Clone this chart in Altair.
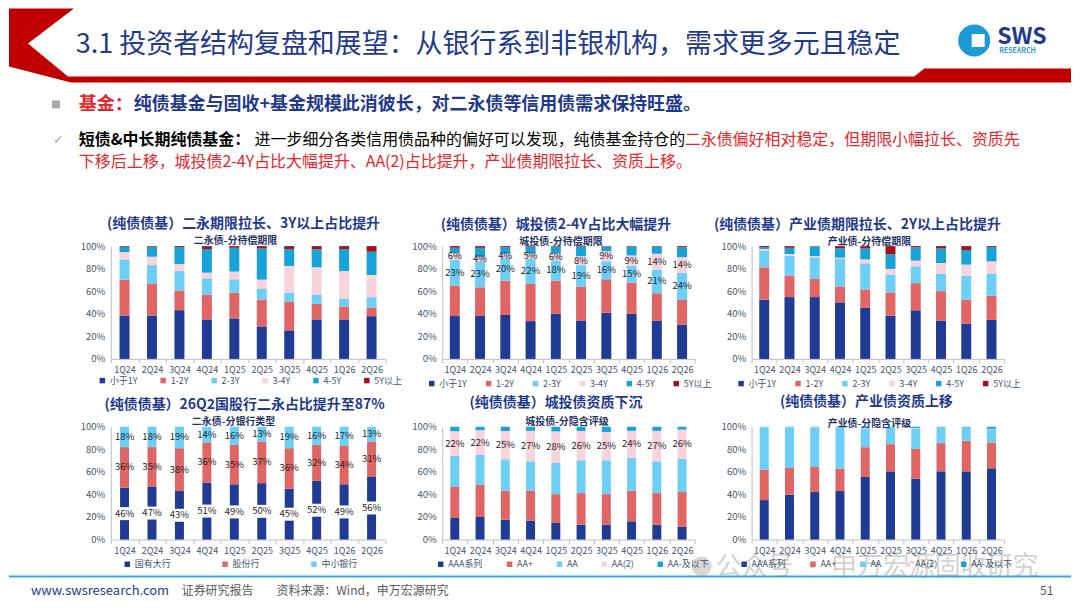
import altair as alt
import pandas as pd

quarters = ["1Q24", "2Q24", "3Q24", "4Q24", "1Q25", "2Q25", "3Q25", "4Q25", "1Q26", "2Q26"]
term_series = ["小于1Y", "1-2Y", "2-3Y", "3-4Y", "4-5Y", "5Y以上"]
bank_series = ["国有大行", "股份行", "中小银行"]
rating_series = ["AAA系列", "AA+", "AA", "AA(2)", "AA-及以下"]

# 二永债-分待偿期限 (%)
ey_lt1 = [38.5, 38.5, 43.2, 35.0, 35.9, 28.8, 25.3, 35.0, 35.0, 37.9]
ey_12 = [31.8, 28.3, 17.4, 22.1, 22.9, 23.8, 25.3, 13.8, 11.5, 7.7]
ey_23 = [17.9, 16.4, 17.3, 14.4, 11.8, 9.8, 8.2, 8.0, 6.7, 9.1]
ey_34 = [6.5, 7.4, 6.2, 5.0, 6.8, 7.9, 23.6, 24.4, 24.7, 19.7]
ey_45 = [4.7, 8.8, 15.0, 20.9, 21.1, 27.6, 15.0, 15.9, 19.5, 20.6]
ey_gt5 = [0.6, 0.6, 0.9, 2.6, 1.5, 2.1, 2.6, 2.9, 2.6, 5.0]

# 城投债-分待偿期限 (%)
ct_lt1 = [38.0, 38.0, 38.9, 33.5, 40.0, 34.1, 41.0, 40.0, 34.1, 30.3]
ct_12 = [27.0, 25.5, 30.5, 33.0, 29.4, 30.0, 29.6, 27.7, 24.1, 21.9]
ct_23 = [23, 23, 20, 22, 18, 19, 16, 15, 21, 24]
ct_34 = [6, 4, 4, 5, 6, 8, 9, 9, 14, 14]
ct_45 = [4.5, 8.0, 5.6, 6.0, 6.1, 8.4, 4.0, 7.8, 6.3, 8.8]
ct_gt5 = [1.5, 1.5, 1.0, 0.5, 0.5, 0.5, 0.4, 0.5, 0.5, 1.0]

# 产业债-分待偿期限 (%)
cy_lt1 = [52.5, 54.8, 54.8, 50.1, 45.2, 38.4, 43.1, 34.0, 31.1, 34.6]
cy_12 = [28.7, 19.1, 16.2, 14.1, 16.4, 20.5, 24.1, 26.1, 21.4, 21.4]
cy_23 = [15.0, 17.6, 19.0, 24.4, 23.2, 15.9, 14.9, 15.3, 21.1, 19.7]
cy_34 = [1.2, 1.5, 1.2, 1.1, 3.5, 5.0, 5.0, 9.6, 10.0, 10.8]
cy_45 = [1.8, 5.5, 8.5, 8.5, 9.6, 12.9, 11.7, 12.9, 12.9, 12.6]
cy_gt5 = [0.8, 1.5, 0.3, 1.8, 2.1, 7.3, 1.2, 2.1, 3.5, 0.9]

# 二永债-分银行类型 (%)
bk_big = [46, 47, 43, 51, 49, 50, 45, 52, 49, 56]
bk_joint = [36, 35, 38, 36, 35, 37, 36, 32, 34, 31]
bk_small = [18, 18, 19, 14, 16, 13, 19, 16, 17, 13]

# 城投债-分隐含评级 (%)
cr_aaa = [19.1, 20.0, 17.6, 16.8, 14.7, 13.2, 13.2, 16.2, 13.2, 11.5]
cr_aap = [28.0, 28.5, 25.6, 26.4, 25.6, 28.0, 27.1, 27.0, 28.0, 30.6]
cr_aa = [27.0, 26.5, 28.0, 26.2, 27.6, 29.1, 30.0, 29.2, 28.2, 29.4]
cr_aa2 = [22, 22, 25, 27, 28, 26, 25, 24, 27, 26]
cr_aam = [3.9, 3.0, 3.8, 3.6, 4.1, 3.7, 4.7, 3.6, 3.6, 2.5]

# 产业债-分隐含评级 (%)
ir_aaa = [35.0, 39.8, 42.1, 43.0, 55.5, 60.5, 54.0, 60.5, 60.5, 63.2]
ir_aap = [27.0, 23.7, 22.3, 19.9, 26.4, 24.1, 26.7, 25.0, 27.0, 22.9]
ir_aa = [37.2, 35.9, 35.0, 36.5, 16.6, 14.8, 17.8, 13.6, 11.6, 11.8]
ir_aa2 = [0.3, 0.2, 0.2, 0.2, 0.5, 0.2, 0.5, 0.3, 0.2, 0.3]
ir_aam = [0.5, 0.4, 0.4, 0.4, 1.0, 0.4, 1.0, 0.6, 0.7, 1.8]

NAVY, RED, SKY, PINK, BLUE, DRED = "#1F3B93", "#E06565", "#6DCFF6", "#F8D3DB", "#17A2D8", "#A0141E"
term_colors = [NAVY, RED, SKY, PINK, BLUE, DRED]
bank_colors = [NAVY, RED, SKY]
rating_colors = [NAVY, RED, SKY, PINK, BLUE]

AX = "#44546A"
DOM = "#BFBFBF"
TITLE_C = "#1F3A8C"
SUB_C = "#1F3366"
ONE = alt.Data(values=[{"k": 0}])


def long_df(series, cols):
    rows = []
    for qi, q in enumerate(quarters):
        total = sum(c[qi] for c in cols)
        cum = 0.0
        for si, (s, c) in enumerate(zip(series, cols)):
            v = c[qi]
            cum += v
            rows.append(dict(quarter=q, series=s, idx=si, value=v,
                             mid=(cum - v / 2) / total, lab=f"{round(v)}%"))
    return pd.DataFrame(rows)


def txt(text, x, y, size, color, weight="normal", align="left", font=None, opacity=1.0):
    kw = dict(text=text, fontSize=size, color=color, fontWeight=weight,
              align=align, baseline="middle")
    if font:
        kw["font"] = font
    if opacity != 1.0:
        kw["opacity"] = opacity
    return alt.Chart(ONE).mark_text(**kw).encode(x=alt.value(x), y=alt.value(y))


def panel(df, series, colors, width, bar_size, title, tpos, sub, spos,
          lx, ly, lpad, label_series=(), box_series=(), pre=(), post=()):
    xaxis = alt.Axis(title=None, labelAngle=0, labelFontSize=9, labelColor=AX,
                     tickBand="extent", tickSize=4, tickColor=DOM, domainColor=DOM,
                     labelPadding=3, grid=False)
    yaxis = alt.Axis(title=None, values=[0, 0.2, 0.4, 0.6, 0.8, 1.0], format=".0%",
                     labelFontSize=9.5, labelColor=AX, ticks=False, tickSize=0,
                     domainColor=DOM, labelPadding=6, grid=False)
    xenc = alt.X("quarter:N", sort=quarters,
                 scale=alt.Scale(paddingInner=0, paddingOuter=0), axis=xaxis)
    yscale = alt.Scale(domain=[0, 1], nice=False)
    bars = alt.Chart(df).mark_bar(size=bar_size).encode(
        x=xenc,
        y=alt.Y("value:Q", stack="normalize", scale=yscale, axis=yaxis),
        color=alt.Color("series:N", sort=series,
                        scale=alt.Scale(domain=series, range=colors),
                        legend=alt.Legend(orient="none", legendX=lx, legendY=ly,
                                          direction="horizontal", columns=len(series),
                                          title=None, symbolType="square", symbolSize=30,
                                          symbolStrokeWidth=0, labelFontSize=9,
                                          labelColor=AX, labelOffset=3,
                                          columnPadding=lpad, padding=0)),
        order=alt.Order("idx:Q", sort="ascending"),
    )
    layers = list(pre) + [bars]
    if box_series:
        bdf = df[df["series"].isin(box_series)]
        layers.append(alt.Chart(bdf).mark_tick(color="white", size=24, thickness=13,
                                               opacity=1).encode(
            x=xenc, y=alt.Y("mid:Q", scale=yscale, axis=yaxis)))
    if label_series:
        ldf = df[df["series"].isin(label_series)]
        layers.append(alt.Chart(ldf).mark_text(fontSize=9.5, color="#262626",
                                               baseline="middle").encode(
            x=xenc, y=alt.Y("mid:Q", scale=yscale, axis=yaxis), text="lab:N"))
    layers.append(txt(title, tpos[0], tpos[1], 14, TITLE_C, "bold", "center"))
    layers.append(txt(sub, spos[0], spos[1], 10, SUB_C, "bold", "center"))
    layers += list(post)
    return alt.layer(*layers).properties(width=width, height=113)


# panel-1 origin on the slide is (110, 246): decorations use slide coords minus that
OX, OY = 110, 246


def P(x, y):
    return x - OX, y - OY


RED_TXT = "#E8262A"
chevron = "M0,0 L65,0 L19,35 L59,68 L907,68 L917,60 L1064,60 L1064,74 L62,74 L0,58 Z"

fx0, fy0 = P(8, 8)
fx1, fy1 = P(1072, 600)
frame = alt.Chart(ONE).mark_rect(color="white", opacity=0).encode(
    x=alt.value(fx0), x2=alt.value(fx1), y=alt.value(fy0), y2=alt.value(fy1))

deco = []
cx, cy = P(8, 8)
deco.append(alt.Chart(ONE).mark_point(shape=chevron, size=4, filled=True, color="#C00000",
                                       opacity=1, strokeWidth=0).encode(
    x=alt.value(cx), y=alt.value(cy)))
lx_, ly_ = P(975, 40)
deco.append(alt.Chart(ONE).mark_point(shape="circle", size=1024, filled=True, color="#1C9AD6",
                                       opacity=1, strokeWidth=0).encode(
    x=alt.value(lx_), y=alt.value(ly_)))
sx_, sy_ = P(979, 40)
deco.append(alt.Chart(ONE).mark_point(shape="square", size=169, filled=True, color="white",
                                       opacity=1, strokeWidth=0).encode(
    x=alt.value(sx_), y=alt.value(sy_)))
deco.append(txt("SWS", *P(998, 37), 23, TITLE_C, "bold"))
deco.append(txt("RESEARCH", *P(1000, 51), 7, "#2A9AD6", "bold"))
deco.append(txt("3.1 投资者结构复盘和展望：从银行系到非银机构，需求更多元且稳定", *P(75, 45), 27, TITLE_C))

bx, by = P(55, 104)
deco.append(alt.Chart(ONE).mark_point(shape="square", size=64, filled=True, color="#A6A6A6",
                                       opacity=1, strokeWidth=0).encode(
    x=alt.value(bx), y=alt.value(by)))
deco.append(txt("基金：", *P(78, 105), 18, RED_TXT, "bold"))
deco.append(txt("纯债基金与固收+基金规模此消彼长，对二永债等信用债需求保持旺盛。", *P(133, 105), 18, TITLE_C, "bold"))
deco.append(txt("✓", *P(52, 140), 13, "#A6A6A6", font="DejaVu Sans"))
deco.append(txt("短债&中长期纯债基金：", *P(78, 140), 16, "#000000", "bold"))
deco.append(txt("进一步细分各类信用债品种的偏好可以发现，纯债基金持仓的", *P(254, 140), 16, "#000000"))
deco.append(txt("二永债偏好相对稳定，但期限小幅拉长、资质先", *P(685, 140), 16, RED_TXT))
deco.append(txt("下移后上移，城投债2-4Y占比大幅提升、AA(2)占比提升，产业债期限拉长、资质上移。", *P(78, 162), 16, RED_TXT))

rx0, ry = P(8, 577)
rx1, _ = P(1072, 577)
deco.append(alt.Chart(ONE).mark_rule(color="#36A9E1", strokeWidth=2).encode(
    x=alt.value(rx0), x2=alt.value(rx1), y=alt.value(ry)))
deco.append(txt("www.swsresearch.com", *P(30, 592), 13, TITLE_C))
deco.append(txt("证券研究报告", *P(181, 592), 12, "#595959"))
deco.append(txt("资料来源：Wind，申万宏源研究", *P(276, 592), 12, "#595959"))
deco.append(txt("51", *P(1041, 592), 12, "#595959"))
wx, wy = P(702, 567)
deco.append(alt.Chart(ONE).mark_point(shape="circle", size=400, filled=True, color="#8C8C8C",
                                       opacity=0.35, strokeWidth=0).encode(
    x=alt.value(wx), y=alt.value(wy)))
deco.append(txt("公众号 · 申万宏源固收研究", *P(716, 568), 26, "#7F7F7F", opacity=0.35))

df1 = long_df(term_series, [ey_lt1, ey_12, ey_23, ey_34, ey_45, ey_gt5])
df2 = long_df(term_series, [ct_lt1, ct_12, ct_23, ct_34, ct_45, ct_gt5])
df3 = long_df(term_series, [cy_lt1, cy_12, cy_23, cy_34, cy_45, cy_gt5])
df4 = long_df(bank_series, [bk_big, bk_joint, bk_small])
df5 = long_df(rating_series, [cr_aaa, cr_aap, cr_aa, cr_aa2, cr_aam])
df6 = long_df(rating_series, [ir_aaa, ir_aap, ir_aa, ir_aa2, ir_aam])

p1 = panel(df1, term_series, term_colors, 275, 10, "(纯债债基）二永期限拉长、3Y以上占比提升",
           (133, -22), "二永债-分待偿期限", (125, -5), -13, 130, 21, pre=[frame], post=deco)
p2 = panel(df2, term_series, term_colors, 253, 10, "(纯债债基）城投债2-4Y占比大幅提升",
           (114, -21), "城投债-分待偿期限", (119, -4), -15, 133, 17,
           label_series=("2-3Y", "3-4Y"))
p3 = panel(df3, term_series, term_colors, 253, 10, "(纯债债基）产业债期限拉长、2Y以上占比提升",
           (106, -21), "产业债-分待偿期限", (118, -4), -15, 133, 17)
p4 = panel(df4, bank_series, bank_colors, 275, 9, "(纯债债基）26Q2国股行二永占比提升至87%",
           (134, -22), "二永债-分银行类型", (123, -5), 12, 133, 49,
           label_series=tuple(bank_series), box_series=("国有大行",))
p5 = panel(df5, rating_series, rating_colors, 253, 9, "(纯债债基）城投债资质下沉",
           (114, -24), "城投债-分隐含评级", (125, -5), -6, 133, 22,
           label_series=("AA(2)",))
p6 = panel(df6, rating_series, rating_colors, 253, 9, "(纯债债基）产业债资质上移",
           (115, -25), "产业债-分隐含评级", (118, -3), -12, 133, 22)

chart = alt.concat(
    p1, p2, p3, p4, p5, p6, columns=3,
    spacing={"row": 68, "column": 57}, bounds="flush", align="each",
).resolve_scale(
    color="independent", x="independent", y="independent"
).resolve_legend(color="independent").properties(
    padding=0, background="white"
).configure(font="Noto Sans CJK SC").configure_view(strokeWidth=0)

chart.save("out.html", embed_options={"renderer": "svg", "actions": False})
